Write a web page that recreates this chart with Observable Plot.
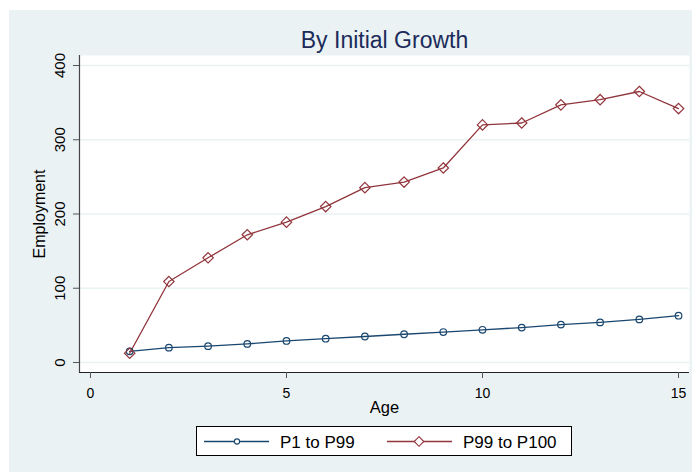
<!DOCTYPE html>
<html>
<head>
<meta charset="utf-8">
<script src="https://cdn.jsdelivr.net/npm/d3@7"></script>
<script src="https://cdn.jsdelivr.net/npm/@observablehq/plot@0.6"></script>
<style>
  html, body { margin: 0; padding: 0; background: #ffffff; }
  #wrap { position: absolute; left: 9px; top: 10px; width: 683px; height: 462px; background: #eaf2f3; overflow: hidden; }
  #chart { position: absolute; left: 0; top: 0; }
  #legend { position: absolute; left: 187px; top: 416px; }
</style>
</head>
<body>
<div id="wrap">
  <div id="chart"></div>
  <div id="legend"></div>
</div>
<script>
// ---- data ----
const title = "By Initial Growth";
const xLabel = "Age";
const yLabel = "Employment";
const seriesNames = ["P1 to P99", "P99 to P100"];
const ages = [1, 2, 3, 4, 5, 6, 7, 8, 9, 10, 11, 12, 13, 14, 15];
const p1to99 = [15, 20, 22, 25, 29, 32, 35, 38, 41, 44, 47, 51, 54, 58, 63];
const p99to100 = [12.5, 109, 141, 172, 189, 210, 235.5, 243, 262, 320, 322.6, 347, 354, 365, 342];
const xTicks = [0, 5, 10, 15];
const yTicks = [0, 100, 200, 300, 400];

// ---- styles ----
const blue = "#1a476f";
const red = "#90353b";
const font = "'Liberation Sans', Arial, Helvetica, sans-serif";

const rows = [];
ages.forEach((a, i) => {
  rows.push({age: a, value: p1to99[i], series: seriesNames[0]});
  rows.push({age: a, value: p99to100[i], series: seriesNames[1]});
});
const s1 = rows.filter(d => d.series === seriesNames[0]);
const s2 = rows.filter(d => d.series === seriesNames[1]);

const xDomain = [-0.28, 15.28];
const yDomain = [-13.5, 413.5];

const chart = Plot.plot({
  width: 683,
  height: 412,
  marginLeft: 70,
  marginRight: 3,
  marginTop: 45,
  marginBottom: 50,
  style: {fontFamily: font, fontSize: "15px", color: "#000", background: "transparent", overflow: "visible"},
  x: {domain: xDomain, axis: null},
  y: {domain: yDomain, axis: null},
  marks: [
    Plot.frame({fill: "#ffffff", stroke: null}),
    Plot.ruleY(yTicks, {stroke: "#eaf2f3", strokeWidth: 1.6}),
    Plot.ruleX([xDomain[0]], {stroke: "#444", strokeWidth: 1.2}),
    Plot.ruleY([yDomain[0]], {stroke: "#222", strokeWidth: 1.2}),
    Plot.axisX({ticks: xTicks, tickSize: 6, tickFormat: () => "", label: null, stroke: "#555"}),
    Plot.axisY({ticks: yTicks, tickSize: 6, tickFormat: () => "", label: null, stroke: "#555"}),
    Plot.text(xTicks, {x: d => d, frameAnchor: "bottom", dy: 21, lineAnchor: "middle", textAnchor: "middle", fontSize: 14, fill: "#000", text: d => String(d)}),
    Plot.text(yTicks, {y: d => d, frameAnchor: "left", dx: -19, rotate: -90, lineAnchor: "middle", textAnchor: "middle", fontSize: 15, fill: "#000", text: d => String(d)}),
    Plot.line(s1, {x: "age", y: "value", stroke: blue, strokeWidth: 1.3}),
    Plot.line(s2, {x: "age", y: "value", stroke: red, strokeWidth: 1.3}),
    Plot.dot(s1, {x: "age", y: "value", symbol: "circle", r: 3.3, stroke: blue, strokeWidth: 1.2, fill: "none"}),
    Plot.dot(s2, {x: "age", y: "value", symbol: "diamond2", r: 4.7, stroke: red, strokeWidth: 1.2, fill: "none"}),
    Plot.text([title], {frameAnchor: "top", dy: -15, lineAnchor: "middle", fontSize: 23, fill: "#1c2b5a"}),
    Plot.text([xLabel], {frameAnchor: "bottom", dy: 35, lineAnchor: "middle", fontSize: 16.5, fill: "#000"}),
    Plot.text([yLabel], {frameAnchor: "left", dx: -40, rotate: -90, lineAnchor: "middle", textAnchor: "middle", fontSize: 16, fill: "#000"})
  ]
});
document.getElementById("chart").appendChild(chart);

// ---- legend ----
const ns = "http://www.w3.org/2000/svg";
const lg = document.createElementNS(ns, "svg");
lg.setAttribute("width", 376);
lg.setAttribute("height", 30);
lg.style.fontFamily = font;
function el(tag, attrs, text) {
  const e = document.createElementNS(ns, tag);
  for (const k in attrs) e.setAttribute(k, attrs[k]);
  if (text != null) e.textContent = text;
  lg.appendChild(e);
  return e;
}
el("rect", {x: 0.5, y: 0.5, width: 375, height: 29, fill: "#fff", stroke: "#000", "stroke-width": 1});
const cy = 15.5;
// series 1
el("line", {x1: 8, x2: 73, y1: cy, y2: cy, stroke: blue, "stroke-width": 1.3});
el("circle", {cx: 41, cy: cy, r: 2.6, fill: "#fff", stroke: blue, "stroke-width": 1.1});
el("text", {x: 84, y: cy + 6, "font-size": 17, fill: "#000"}, seriesNames[0]);
// series 2
el("line", {x1: 191, x2: 256, y1: cy, y2: cy, stroke: red, "stroke-width": 1.3});
el("path", {d: `M223,${cy - 4.8}L227.8,${cy}L223,${cy + 4.8}L218.2,${cy}Z`, fill: "#fff", stroke: red, "stroke-width": 1.1});
el("text", {x: 267, y: cy + 6, "font-size": 17, fill: "#000"}, seriesNames[1]);
document.getElementById("legend").appendChild(lg);
</script>
</body>
</html>
